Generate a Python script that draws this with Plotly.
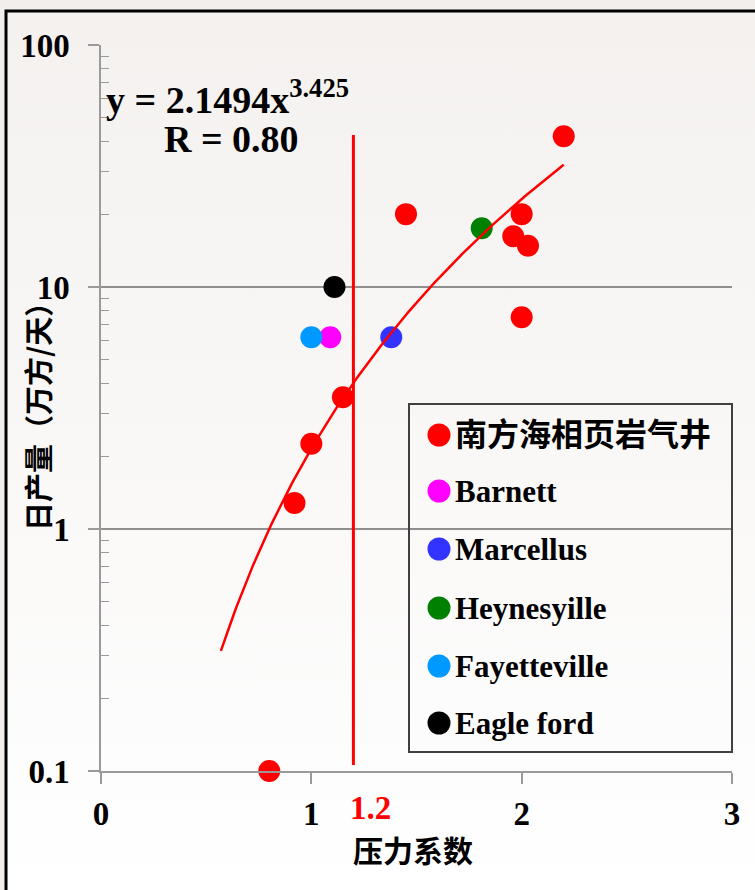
import base64
import numpy as np
import plotly.graph_objects as go

# ---- data -------------------------------------------------------------
south_x = [0.80, 0.92, 1.00, 1.15, 1.45, 1.96, 2.00, 2.03, 2.00, 2.20]
south_y = [0.10, 1.28, 2.25, 3.50, 20.0, 16.2, 20.0, 14.8, 7.5, 42.0]

barnett_x, barnett_y = [1.09], [6.2]
fayette_x, fayette_y = [1.00], [6.2]
marcellus_x, marcellus_y = [1.38], [6.2]
haynes_x, haynes_y = [1.81], [17.5]
eagle_x, eagle_y = [1.11], [10.0]

# power-law fit y = a * x^b
fit_a, fit_b, fit_r = 2.1494, 3.425, 0.80
fit_x_range = [0.57, 2.20]

# pressure-coefficient threshold line
thresh_x = 1.2
thresh_y = [0.106, 42.5]

x_ticks = [0, 1, 2, 3]
y_ticks = [0.1, 1, 10, 100]
y_tick_text = ["0.1", "1", "10", "100"]
y_minor = [m * 10.0 ** d for d in (-1, 0, 1) for m in range(2, 10)]

legend_names = ["南方海相页岩气井", "Barnett", "Marcellus", "Heynesyille",
                "Fayetteville", "Eagle ford"]
legend_colors = ["#ff0000", "#ff00ff", "#3333ff", "#008000", "#0099ff", "#000000"]

# ---- figure geometry ----------------------------------------------------
W, H = 755, 890
ML, MR, MT, MB = 101, 23, 45, 119
PW, PH = W - ML - MR, H - MT - MB


def px(x):
    return (x - ML) / PW


def py(y):
    return (H - MB - y) / PH


SERIF = "Liberation Serif, 'Noto Sans CJK SC', serif"
CJK = "'Noto Sans CJK SC', sans-serif"

fig = go.Figure()

MS = 22


def pts(x, y, color, name):
    fig.add_trace(go.Scatter(x=x, y=y, mode="markers", name=name,
                             marker=dict(size=MS, color=color, line=dict(width=0)),
                             cliponaxis=False, showlegend=False))


pts(barnett_x, barnett_y, legend_colors[1], "Barnett")
pts(fayette_x, fayette_y, legend_colors[4], "Fayetteville")
pts(marcellus_x, marcellus_y, legend_colors[2], "Marcellus")
pts(haynes_x, haynes_y, legend_colors[3], "Heynesyille")
pts(eagle_x, eagle_y, legend_colors[5], "Eagle ford")
pts(south_x, south_y, legend_colors[0], "南方海相页岩气井")

# fitted curve
fx = np.linspace(fit_x_range[0], fit_x_range[1], 200)
fy = fit_a * fx ** fit_b
fig.add_trace(go.Scatter(x=fx, y=fy, mode="lines", line=dict(color="#ff0000", width=2.5),
                         showlegend=False, hoverinfo="skip"))

# threshold line
fig.add_trace(go.Scatter(x=[thresh_x, thresh_x], y=thresh_y, mode="lines",
                         line=dict(color="#ff0000", width=3),
                         showlegend=False, hoverinfo="skip"))

# ---- background gradient and frame ------------------------------------
svg = ('<svg xmlns="http://www.w3.org/2000/svg" width="100" height="100" '
       'preserveAspectRatio="none"><defs><linearGradient id="g" x1="0" y1="0" '
       'x2="0" y2="1"><stop offset="0" stop-color="#f4f1ef"/>'
       '<stop offset="1" stop-color="#ffffff"/></linearGradient></defs>'
       '<rect width="100" height="100" fill="url(#g)"/></svg>')
src = "data:image/svg+xml;base64," + base64.b64encode(svg.encode()).decode()

images = [dict(source=src, xref="paper", yref="paper", x=px(6), y=py(11),
               sizex=px(W + 10) - px(6), sizey=py(11) - py(H + 10),
               xanchor="left", yanchor="top", sizing="stretch", layer="below")]

shapes = [dict(type="rect", xref="paper", yref="paper",
               x0=px(6), x1=px(W + 20), y0=py(11), y1=py(H + 20),
               line=dict(color="#000000", width=3), fillcolor="rgba(0,0,0,0)",
               layer="above")]

# legend box
LX0, LX1, LY0, LY1 = 409, 732, 404, 752
shapes.append(dict(type="rect", xref="paper", yref="paper",
                   x0=px(LX0), x1=px(LX1), y0=py(LY1), y1=py(LY0),
                   line=dict(color="#404040", width=2), fillcolor="rgba(0,0,0,0)"))

annotations = []
row_y = [435, 491, 549, 608, 666, 723]
for i, (name, col, ry) in enumerate(zip(legend_names, legend_colors, row_y)):
    shapes.append(dict(type="circle", xref="paper", yref="paper",
                       xsizemode="pixel", ysizemode="pixel",
                       xanchor=px(439), yanchor=py(ry),
                       x0=-11.5, x1=11.5, y0=-11.5, y1=11.5,
                       fillcolor=col, line=dict(width=0)))
    annotations.append(dict(text=name, xref="paper", yref="paper",
                            x=px(453), y=py(ry), xanchor="left", yanchor="middle",
                            showarrow=False,
                            font=dict(family=SERIF, size=32 if i == 0 else 31,
                                      color="#000000", weight="bold")))

# equation text
annotations.append(dict(text="y = 2.1494x<sup>3.425</sup>", xref="paper", yref="paper",
                        x=px(104), y=py(97), xanchor="left", yanchor="middle",
                        showarrow=False,
                        font=dict(family=SERIF, size=38, color="#000000", weight="bold")))
annotations.append(dict(text=f"R = {fit_r:.2f}", xref="paper", yref="paper",
                        x=px(231), y=py(139), xanchor="center", yanchor="middle",
                        showarrow=False,
                        font=dict(family=SERIF, size=38, color="#000000", weight="bold")))

# threshold label
annotations.append(dict(text=f"{thresh_x:.1f}", xref="x", yref="paper",
                        x=thresh_x, y=py(808), xanchor="center", yanchor="middle",
                        xshift=17, showarrow=False,
                        font=dict(family=SERIF, size=33, color="#ff0000", weight="bold")))

# axis titles
annotations.append(dict(text="压力系数", xref="paper", yref="paper",
                        x=px(413), y=py(849), xanchor="center", yanchor="middle",
                        showarrow=False,
                        font=dict(family=CJK, size=30, color="#000000", weight="bold")))
annotations.append(dict(text="日产量（万方/天）", xref="paper", yref="paper",
                        x=px(37), y=py(410), xanchor="center", yanchor="middle",
                        textangle=-90, showarrow=False,
                        font=dict(family=CJK, size=29, color="#000000", weight="bold")))

AX = "#9a9a9a"
TICKFONT = dict(family=SERIF, size=33, color="#000000", weight="bold")
fig.update_layout(
    width=W, height=H,
    margin=dict(l=ML, r=MR, t=MT, b=MB),
    paper_bgcolor="#f1eeec",
    plot_bgcolor="rgba(0,0,0,0)",
    showlegend=False,
    images=images,
    shapes=shapes,
    annotations=annotations,
    xaxis=dict(range=[0, 3], tickmode="array", tickvals=x_ticks,
               ticks="outside", ticklen=11, tickwidth=1.5, tickcolor=AX,
               showline=True, linecolor=AX, linewidth=1.5,
               showgrid=False, zeroline=False, ticklabelstandoff=2,
               tickfont=TICKFONT),
    yaxis=dict(type="log", range=[-1, 2], tickmode="array", tickvals=y_ticks,
               ticktext=y_tick_text,
               ticks="outside", ticklen=11, tickwidth=1.5, tickcolor=AX,
               showline=True, linecolor=AX, linewidth=1.5,
               showgrid=True, gridcolor="#8f8f8f", gridwidth=1.5,
               zeroline=False, ticklabelstandoff=12,
               minor=dict(tickmode="array", tickvals=y_minor, ticks="inside",
                          ticklen=8, tickwidth=1.2, tickcolor=AX, showgrid=False),
               tickfont=TICKFONT),
)

fig.write_html("out.html")
